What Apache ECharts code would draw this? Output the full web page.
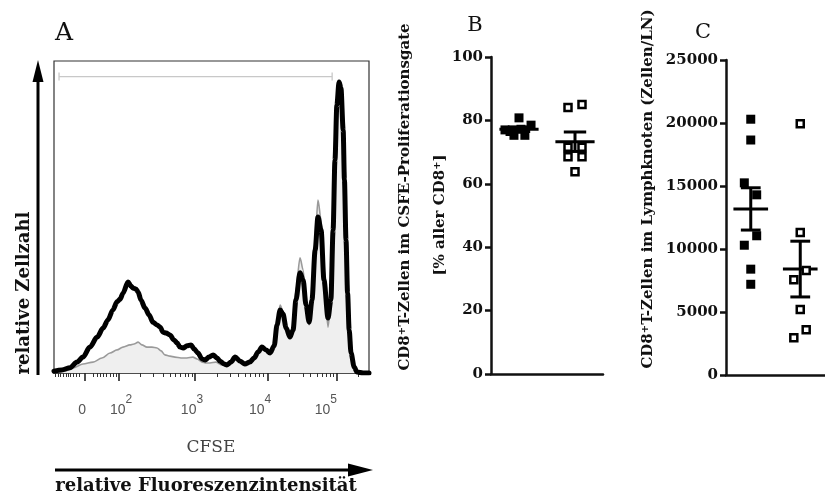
<!DOCTYPE html>
<html><head><meta charset="utf-8">
<script src="https://cdn.jsdelivr.net/npm/echarts@6/dist/echarts.min.js"></script>
<style>html,body{margin:0;padding:0;background:#fff}#c{width:825px;height:495px}</style>
</head><body><div id="c"></div>
<script>
// ---------- Panel A: CFSE histogram (display channel 0..1000, relative count 0..100) ----------
const cfseBlack = [[0,0.6],[25,1.0],[51,1.7],[73,3.5],[92,5.1],[114,8.3],[137,11.5],[156,14.4],[171,17.0],[187,20.2],[200,22.8],[210,23.7],[219,25.6],[235,29.2],[244,27.9],[251,27.2],[260,26.9],[267,26.0],[276,23.4],[289,20.8],[302,18.6],[314,16.3],[327,15.4],[337,14.7],[346,13.1],[356,12.8],[368,12.2],[381,10.6],[391,9.6],[400,8.3],[410,8.0],[422,8.7],[435,9.0],[445,7.7],[457,6.4],[470,4.5],[480,4.2],[492,5.1],[505,5.8],[518,4.8],[527,3.8],[540,2.9],[549,2.6],[562,3.5],[575,5.1],[591,3.8],[606,2.9],[622,3.5],[635,4.8],[648,6.7],[660,8.3],[673,7.4],[686,6.4],[699,8.7],[708,15.4],[718,20.2],[727,18.9],[737,14.4],[749,11.5],[759,13.8],[768,23.4],[781,32.1],[791,29.8],[800,21.8],[810,16.3],[819,23.4],[829,39.4],[838,50.0],[848,45.8],[857,29.8],[870,17.6],[879,23.4],[886,45.8],[892,68.3],[898,85.9],[905,93.3],[911,91.3],[918,77.9],[922,61.9],[927,42.6],[932,25.6],[937,13.8],[943,6.4],[953,1.9],[962,0.3],[981,0],[1000,0]];
const cfseGray = [[0,0.3],[35,0.6],[60,1.6],[92,2.9],[124,3.5],[152,4.8],[178,6.4],[200,7.4],[219,8.3],[241,9.0],[254,9.3],[267,9.9],[279,9.0],[295,8.3],[311,8.3],[327,8.0],[340,7.1],[352,5.8],[368,5.4],[384,5.1],[403,4.8],[422,4.8],[441,5.1],[454,4.5],[470,3.5],[483,3.2],[495,3.2],[514,3.5],[533,2.6],[549,2.2],[562,3.2],[575,4.5],[591,3.5],[606,2.6],[622,3.2],[635,4.5],[648,6.4],[660,8.0],[673,7.1],[686,6.1],[699,8.3],[708,16.3],[718,21.8],[727,19.6],[737,13.8],[749,11.2],[759,14.4],[768,26.6],[781,36.9],[791,33.0],[800,21.8],[810,15.4],[819,23.4],[829,42.6],[838,55.4],[848,49.0],[857,29.8],[870,14.7],[879,23.4],[886,45.8],[892,68.3],[898,85.9],[905,93.3],[911,91.3],[918,77.9],[922,61.9],[927,42.6],[932,25.6],[937,13.8],[943,6.4],[953,1.9],[962,0.3],[981,0],[1000,0]];
const gate = [16, 883, 95];
const minorTicks = [3,14,21,30,38,45,53,61,70,80,125,136,146,157,167,178,188,199,273,314,346,368,384,400,416,425,438,517,559,584,606,622,638,651,663,746,790,813,835,851,863,876,886,965];
const majorTicks = [98, 207, 448, 680, 899];
const tickLabelPos = [89, 213, 438, 654, 863];
const tickLabels = ['0', '10^2', '10^3', '10^4', '10^5'];

// ---------- Panel B: % in proliferation gate ----------
const bFilled = [80.8, 78.5, 77.0, 75.3, 75.3, 77.2, 76.5];
const bFilledJitter = [0, 0.43, -0.5, -0.18, 0.21, 0.07, -0.32];
const bOpen = [84.1, 85.0, 71.5, 71.5, 68.5, 68.5, 63.8];
const bOpenJitter = [-0.25, 0.25, -0.25, 0.25, -0.25, 0.25, 0];

// ---------- Panel C: cells per lymph node ----------
const cFilled = [20300, 18650, 15250, 14300, 11050, 10300, 8400, 7200];
const cFilledJitter = [0, 0, -0.26, 0.24, 0.24, -0.26, 0, 0];
const cOpen = [19950, 11300, 8300, 7550, 5200, 3600, 2950];
const cOpenJitter = [0, 0, 0.24, -0.26, 0, 0.24, -0.26];

const groupX = [1, 3];

function meanSem(a){
  const n=a.length; const m=a.reduce((s,v)=>s+v,0)/n;
  const sd=Math.sqrt(a.reduce((s,v)=>s+(v-m)*(v-m),0)/(n-1));
  return [m, sd/Math.sqrt(n)];
}
function pts(vals, jit, gx){ return vals.map((v,i)=>[gx + jit[i], v]); }

function errRender(params, api){
  const x=api.value(0), m=api.value(1), s=api.value(2);
  const c=(a,b)=>api.coord([a,b]);
  const st={stroke:'#000', lineWidth:3};
  const ln=(p,q)=>({type:'line', shape:{x1:p[0],y1:p[1],x2:q[0],y2:q[1]}, style:st});
  return {type:'group', children:[
    ln(c(x-0.7,m), c(x+0.7,m)),
    ln(c(x,m-s), c(x,m+s)),
    ln(c(x-0.4,m+s), c(x+0.4,m+s)),
    ln(c(x-0.4,m-s), c(x+0.4,m-s))
  ]};
}
function gateRender(params, api){
  const a=api.coord([api.value(0), api.value(2)]);
  const b=api.coord([api.value(1), api.value(2)]);
  const st={stroke:'#c8c8c8', lineWidth:1.3};
  return {type:'group', children:[
    {type:'line', shape:{x1:a[0],y1:a[1],x2:b[0],y2:b[1]}, style:st},
    {type:'line', shape:{x1:a[0],y1:a[1]-4,x2:a[0],y2:a[1]+4}, style:st},
    {type:'line', shape:{x1:b[0],y1:b[1]-4,x2:b[0],y2:b[1]+4}, style:st}
  ]};
}

const serifBold = 'DejaVu Serif';
const supStyle = {fontSize:10, fontFamily:serifBold, fontWeight:'bold', fill:'#111', verticalAlign:'top'};

function yAxisStyle(gi, max, interval){
  return {type:'value', gridIndex:gi, min:0, max:max, interval:interval,
    axisLine:{show:true, lineStyle:{color:'#111', width:2.5}},
    axisTick:{show:true, length:6, lineStyle:{color:'#111', width:2.5}},
    axisLabel:{margin:8, color:'#111', fontFamily:serifBold, fontWeight:'bold', fontSize:15, formatter:(v)=>String(v)},
    splitLine:{show:false}};
}
function xCatAxis(gi){
  return {type:'value', gridIndex:gi, min:0, max:4, position:'bottom',
    axisLine:{show:true, onZero:false, lineStyle:{color:'#111', width:2.5}},
    axisTick:{show:false}, axisLabel:{show:false}, splitLine:{show:false}};
}

const bStats = [meanSem(bFilled), meanSem(bOpen)];
const cStats = [meanSem(cFilled), meanSem(cOpen)];
const filledStyle = {color:'#000', opacity:1};
const openStyle = {color:'#fff', borderColor:'#000', borderWidth:2.5, opacity:1};

const option = {
  animation:false,
  backgroundColor:'#fff',
  grid:[
    {left:54, top:61, width:315, height:312, show:true, borderColor:'#333', borderWidth:1.2, backgroundColor:'transparent'},
    {left:491, top:57, width:112, height:317},
    {left:726, top:60, width:112, height:315}
  ],
  xAxis:[
    {type:'value', gridIndex:0, min:0, max:1000, position:'bottom',
      axisLine:{show:true, lineStyle:{color:'#333', width:1.5}},
      axisTick:{show:true, customValues:minorTicks, length:4, lineStyle:{color:'#333', width:1}},
      axisLabel:{show:false}, splitLine:{show:false}},
    {type:'value', gridIndex:0, min:0, max:1000, position:'bottom', offset:0,
      axisLine:{show:false},
      axisTick:{show:true, customValues:majorTicks, length:8, lineStyle:{color:'#222', width:1.6}},
      axisLabel:{show:true, customValues:tickLabelPos, margin:21,
        formatter:function(v){
          let best=0; tickLabelPos.forEach((p,i)=>{ if(Math.abs(p-v)<Math.abs(tickLabelPos[best]-v)) best=i; });
          const t=tickLabels[best].split('^');
          return t.length>1 ? '{n|'+t[0]+'}{s|'+t[1]+'}' : '{n|'+t[0]+'}';
        },
        rich:{
          n:{fontSize:14, fontFamily:'Liberation Sans', color:'#555', verticalAlign:'bottom', lineHeight:23},
          s:{fontSize:12, fontFamily:'Liberation Sans', color:'#555', verticalAlign:'top', lineHeight:23}
        }},
      splitLine:{show:false}},
    xCatAxis(1),
    xCatAxis(2)
  ],
  yAxis:[
    {type:'value', gridIndex:0, min:0, max:100, show:false},
    yAxisStyle(1, 100, 20),
    yAxisStyle(2, 25000, 5000)
  ],
  series:[
    {type:'line', xAxisIndex:0, yAxisIndex:0, data:cfseGray, showSymbol:false, smooth:0.3, smoothMonotone:'x',
      lineStyle:{color:'#9a9a9a', width:1.6}, areaStyle:{color:'#efefef', opacity:1}, z:2},
    {type:'line', xAxisIndex:0, yAxisIndex:0, data:cfseBlack, showSymbol:false, smooth:0.3, smoothMonotone:'x',
      lineStyle:{color:'#000', width:5, join:'round', cap:'round'}, z:3},
    {type:'custom', xAxisIndex:0, yAxisIndex:0, data:[gate], renderItem:gateRender, z:4},

    {type:'custom', xAxisIndex:2, yAxisIndex:1, data:[[groupX[0], bStats[0][0], bStats[0][1]],[groupX[1], bStats[1][0], bStats[1][1]]], renderItem:errRender, z:2},
    {type:'scatter', xAxisIndex:2, yAxisIndex:1, data:pts(bFilled,bFilledJitter,groupX[0]), symbol:'rect', symbolSize:9, itemStyle:filledStyle, z:3},
    {type:'scatter', xAxisIndex:2, yAxisIndex:1, data:pts(bOpen,bOpenJitter,groupX[1]), symbol:'rect', symbolSize:7, itemStyle:openStyle, z:3},

    {type:'custom', xAxisIndex:3, yAxisIndex:2, data:[[groupX[0], cStats[0][0], cStats[0][1]],[groupX[1], cStats[1][0], cStats[1][1]]], renderItem:errRender, z:2},
    {type:'scatter', xAxisIndex:3, yAxisIndex:2, data:pts(cFilled,cFilledJitter,groupX[0]), symbol:'rect', symbolSize:9, itemStyle:filledStyle, z:3},
    {type:'scatter', xAxisIndex:3, yAxisIndex:2, data:pts(cOpen,cOpenJitter,groupX[1]), symbol:'rect', symbolSize:7, itemStyle:openStyle, z:3}
  ],
  graphic:[
    {type:'text', x:64, y:33, style:{text:'A', font:'25px "DejaVu Serif"', fill:'#111', align:'center', verticalAlign:'middle'}},
    {type:'text', x:475, y:26, style:{text:'B', font:'21px "DejaVu Serif"', fill:'#111', align:'center', verticalAlign:'middle'}},
    {type:'text', x:703, y:33, style:{text:'C', font:'21px "DejaVu Serif"', fill:'#111', align:'center', verticalAlign:'middle'}},
    {type:'text', x:211, y:448, style:{text:'CFSE', font:'17px "DejaVu Serif"', fill:'#444', align:'center', verticalAlign:'middle'}},
    {type:'text', x:206, y:486, style:{text:'relative Fluoreszenzintensität', font:'bold 18px "DejaVu Serif"', fill:'#111', align:'center', verticalAlign:'middle'}},
    {type:'text', x:24, y:293, rotation:Math.PI/2, style:{text:'relative Zellzahl', font:'bold 18px "DejaVu Serif"', fill:'#111', align:'center', verticalAlign:'middle'}},
    {type:'line', shape:{x1:38, y1:375, x2:38, y2:78}, style:{stroke:'#000', lineWidth:3}},
    {type:'polygon', shape:{points:[[38,60],[32.5,82],[43.5,82]]}, style:{fill:'#000'}},
    {type:'line', shape:{x1:55, y1:470, x2:352, y2:470}, style:{stroke:'#000', lineWidth:3}},
    {type:'polygon', shape:{points:[[373,470],[348,463.5],[348,476.5]]}, style:{fill:'#000'}},
    {type:'text', x:405, y:197, rotation:Math.PI/2, style:{text:'CD8{sup|+}T-Zellen im CSFE-Proliferationsgate', fontFamily:serifBold, fontWeight:'bold', fontSize:15, fill:'#111', align:'center', verticalAlign:'middle', rich:{sup:supStyle}}},
    {type:'text', x:440, y:215, rotation:Math.PI/2, style:{text:'[% aller CD8{sup|+}]', fontFamily:serifBold, fontWeight:'bold', fontSize:15, fill:'#111', align:'center', verticalAlign:'middle', rich:{sup:supStyle}}},
    {type:'text', x:648, y:189, rotation:Math.PI/2, style:{text:'CD8{sup|+}T-Zellen im Lymphknoten (Zellen/LN)', fontFamily:serifBold, fontWeight:'bold', fontSize:15, fill:'#111', align:'center', verticalAlign:'middle', rich:{sup:supStyle}}}
  ]
};
const chart = echarts.init(document.getElementById('c'));
chart.setOption(option);
</script>
</body></html>
